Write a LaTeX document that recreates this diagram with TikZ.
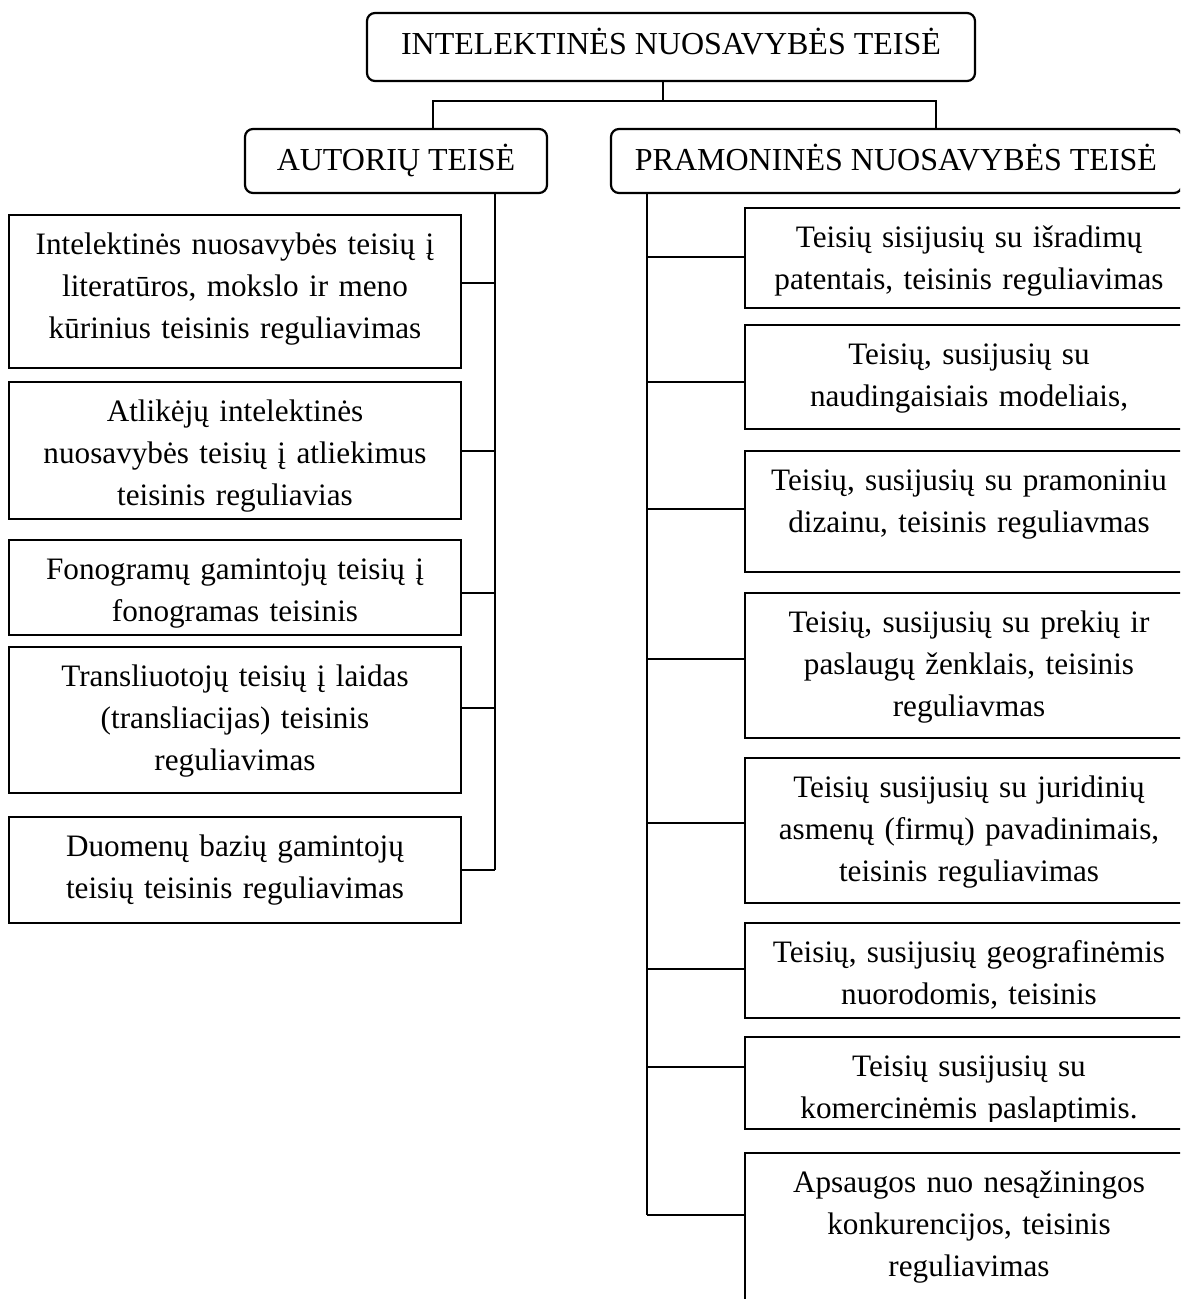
\documentclass[tikz,border=0pt]{standalone}
\usepackage{fontspec}
\setmainfont{Liberation Serif}
\usetikzlibrary{fit}
\tikzset{
  frame/.style={draw, line width=1.1pt, inner sep=0pt},
  rframe/.style={frame, rounded corners=4pt},
  conn/.style={line width=1.1pt},
  txt/.style={anchor=north, inner sep=0pt, text width=220pt,
    font=\fontsize{15.6}{21}\selectfont},
  ttl/.style={anchor=base, inner sep=0pt, font=\fontsize{16}{21}\selectfont}
}
\newcommand\boxtext[2]{%
  \begin{scope}
    \clip ([yshift=4.5pt]#1.south west) rectangle (#1.north east);
    \node[txt] (#1t) at ([yshift=-5.3pt]#1.north) {\centering\strut #2\par};
  \end{scope}}
\begin{document}
\begin{tikzpicture}[x=0.5pt, y=-0.5pt]
\useasboundingbox (0,0) rectangle (1180,1299);
\clip (0,0) rectangle (1180,1299);

% title boxes
\node[rframe, fit={(367,13) (975,81)}] (TOP) {};
\node[ttl] (TOPt) at (671,55) {INTELEKTINĖS NUOSAVYBĖS TEISĖ};
\node[rframe, fit={(245,129) (547,193)}] (AUT) {};
\node[ttl] (AUTt) at (396,171) {AUTORIŲ TEISĖ};
\node[rframe, fit={(611,129) (1182,193)}] (PRA) {};
\node[ttl] (PRAt) at (896,171) {PRAMONINĖS NUOSAVYBĖS TEISĖ};

% top connectors
\coordinate (tm) at (663,101);
\coordinate (hl) at (433,101);
\coordinate (hr) at (936,101);
\draw[conn] (TOP.south -| tm) -- (tm);
\draw[conn] (AUT.north -| hl) -- (hl) -- (hr) -- (PRA.north -| hr);

% left column
\node[frame, fit={(9,215) (461,368)}] (L1) {};
\node[frame, fit={(9,382) (461,519)}] (L2) {};
\node[frame, fit={(9,540) (461,635)}] (L3) {};
\node[frame, fit={(9,647) (461,793)}] (L4) {};
\node[frame, fit={(9,817) (461,923)}] (L5) {};
\boxtext{L1}{Intelektinės nuosavybės teisių į\\literatūros, mokslo ir meno\\kūrinius teisinis reguliavimas}
\boxtext{L2}{Atlikėjų intelektinės\\nuosavybės teisių į atliekimus\\teisinis reguliavias}
\boxtext{L3}{Fonogramų gamintojų teisių į\\fonogramas teisinis}
\boxtext{L4}{Transliuotojų teisių į laidas\\(transliacijas) teisinis\\reguliavimas}
\boxtext{L5}{Duomenų bazių gamintojų\\teisių teisinis reguliavimas}

\coordinate (Lb) at (495,870);
\draw[conn] (AUT.south -| Lb) -- (Lb);
\draw[conn] (L1.east |- 0,283) -- (Lb |- 0,283);
\draw[conn] (L2.east |- 0,451) -- (Lb |- 0,451);
\draw[conn] (L3.east |- 0,593) -- (Lb |- 0,593);
\draw[conn] (L4.east |- 0,708) -- (Lb |- 0,708);
\draw[conn] (L5.east |- Lb) -- (Lb);

% right column
\node[frame, fit={(745,208) (1193,308)}] (R1) {};
\node[frame, fit={(745,325) (1193,429)}] (R2) {};
\node[frame, fit={(745,451) (1193,572)}] (R3) {};
\node[frame, fit={(745,593) (1193,738)}] (R4) {};
\node[frame, fit={(745,758) (1193,903)}] (R5) {};
\node[frame, fit={(745,923) (1193,1018)}] (R6) {};
\node[frame, fit={(745,1037) (1193,1129)}] (R7) {};
\node[frame, fit={(745,1153) (1193,1330)}] (R8) {};
\boxtext{R1}{Teisių sisijusių su išradimų\\patentais, teisinis reguliavimas}
\boxtext{R2}{Teisių, susijusių su\\naudingaisiais modeliais,}
\boxtext{R3}{Teisių, susijusių su pramoniniu\\dizainu, teisinis reguliavmas}
\boxtext{R4}{Teisių, susijusių su prekių ir\\paslaugų ženklais, teisinis\\reguliavmas}
\boxtext{R5}{Teisių susijusių su juridinių\\asmenų (firmų) pavadinimais,\\teisinis reguliavimas}
\boxtext{R6}{Teisių, susijusių geografinėmis\\nuorodomis, teisinis}
\boxtext{R7}{Teisių susijusių su\\komercinėmis paslaptimis.}
\boxtext{R8}{Apsaugos nuo nesąžiningos\\konkurencijos, teisinis\\reguliavimas}

\coordinate (Rb) at (647,1215);
\draw[conn] (PRA.south -| Rb) -- (Rb);
\draw[conn] (R1.west |- 0,257) -- (Rb |- 0,257);
\draw[conn] (R2.west |- 0,382) -- (Rb |- 0,382);
\draw[conn] (R3.west |- 0,509) -- (Rb |- 0,509);
\draw[conn] (R4.west |- 0,659) -- (Rb |- 0,659);
\draw[conn] (R5.west |- 0,823) -- (Rb |- 0,823);
\draw[conn] (R6.west |- 0,969) -- (Rb |- 0,969);
\draw[conn] (R7.west |- 0,1067) -- (Rb |- 0,1067);
\draw[conn] (R8.west |- Rb) -- (Rb);
\end{tikzpicture}
\end{document}
